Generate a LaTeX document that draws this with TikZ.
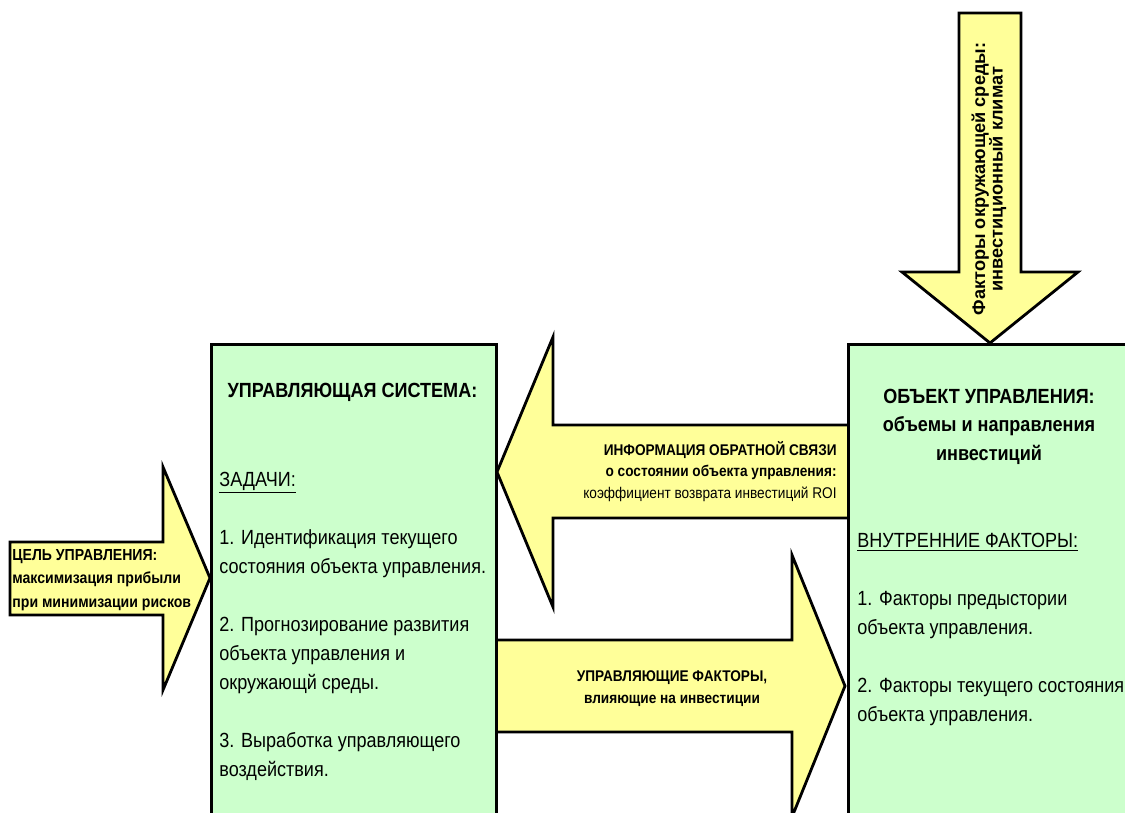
\documentclass[tikz,border=0pt]{standalone}
\usepackage{fontspec}
\setmainfont{Liberation Sans}
\newfontfamily\narrowfont{Liberation Sans}[FakeStretch=0.88]
\definecolor{arrowyellow}{HTML}{FFFF99}
\definecolor{boxgreen}{HTML}{CCFFCC}

\begin{document}
\begin{tikzpicture}[x=0.5pt,y=-0.5pt]
\tikzset{arrowblock/.style={draw, line width=1.4pt, fill=arrowyellow},
  sysbox/.style={draw, line width=1.4pt, fill=boxgreen, anchor=north west, inner sep=0pt},
  bigtext/.style={font=\narrowfont\fontsize{10.25}{14.5}\selectfont, inner sep=0pt},
  bigbold/.style={font=\narrowfont\bfseries\fontsize{10.25}{14.25}\selectfont, inner sep=0pt},
  smalltext/.style={font=\narrowfont\bfseries\fontsize{7.75}{10.75}\selectfont, inner sep=0pt}}
\useasboundingbox (0,0) rectangle (1125,813);
\clip (0,0) rectangle (1125,813);
\draw[arrowblock] (959,13) -- (1021,13) -- (1021,272) -- (1078,272) -- (990,343) -- (902,272) -- (959,272) -- cycle;
\draw[arrowblock] (10,542) -- (163,542) -- (163,467) -- (210,578) -- (163,690) -- (163,615) -- (10,615) -- cycle;
\draw[arrowblock] (870,425) -- (553,425) -- (553,337) -- (497,472) -- (553,607) -- (553,518) -- (870,518) -- cycle;
\draw[arrowblock] (480,640) -- (792,640) -- (792,555) -- (845,686) -- (792,817) -- (792,732) -- (480,732) -- cycle;
\node[sysbox, minimum width=142.5pt, minimum height=250pt] (ctrlsys) at (210,343) {};
\node[sysbox, minimum width=143pt, minimum height=250pt] (ctrlobj) at (847,343) {};
\node[bigbold, anchor=base] (systitle) at (352.5,397) {УПРАВЛЯЮЩАЯ СИСТЕМА:};
\node[bigtext, anchor=base west, align=left] (systasks) at (219,776) {\underline{ЗАДАЧИ:}\\[14.5pt] 1. Идентификация текущего\\ состояния объекта управления.\\[14.5pt] 2. Прогнозирование развития\\ объекта управления и\\ окружающй среды.\\[14.5pt] 3. Выработка управляющего\\ воздействия.};
\node[bigbold, anchor=base, align=center] (objtitle) at (989,460) {ОБЪЕКТ УПРАВЛЕНИЯ:\\ объемы и направления\\ инвестиций};
\node[bigtext, anchor=base west, align=left] (objfactors) at (857,721) {\underline{ВНУТРЕННИЕ ФАКТОРЫ:}\\[14.5pt] 1. Факторы предыстории\\ объекта управления.\\[14.5pt] 2. Факторы текущего состояния\\ объекта управления.};
\node[smalltext, anchor=base west, align=left, font=\narrowfont\bfseries\fontsize{8}{11.75}\selectfont] (goal) at (12,607) {ЦЕЛЬ УПРАВЛЕНИЯ:\\ максимизация прибыли\\ при минимизации рисков};
\node[smalltext, anchor=base east, align=right] (feedback) at (837,498) {ИНФОРМАЦИЯ ОБРАТНОЙ СВЯЗИ\\ о состоянии объекта управления:\\ \mdseries коэффициент возврата инвестиций ROI};
\node[smalltext, anchor=base, align=center] (ctrlfactors) at (672,703) {УПРАВЛЯЮЩИЕ ФАКТОРЫ,\\ влияющие на инвестиции};
\node[font=\bfseries\fontsize{9.1}{8.75}\selectfont, rotate=90, align=center, inner sep=0pt] (envfactors) at (989,179) {Факторы окружающей среды:\\ инвестиционный климат};
\end{tikzpicture}
\end{document}
